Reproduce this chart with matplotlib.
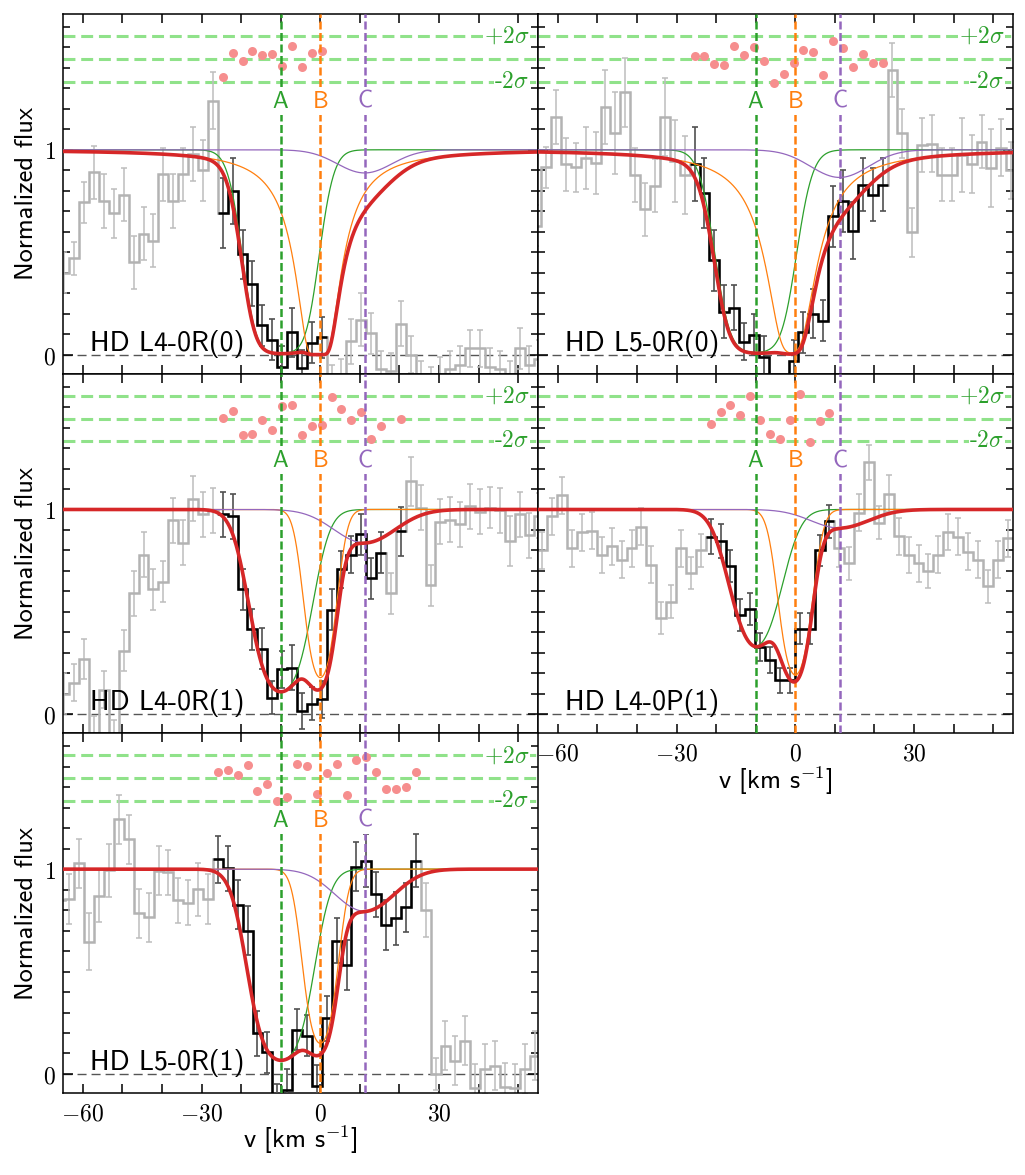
import numpy as np
import matplotlib
matplotlib.use("Agg")
import matplotlib.pyplot as plt
from matplotlib.ticker import FixedLocator, MultipleLocator, FixedFormatter, NullFormatter

plt.rcParams["mathtext.fontset"] = "cm"
SANS = ["cmss10", "DejaVu Sans"]

# ---------------- data ----------------
V_A, V_B, V_C = -10.0, 0.0, 11.2      # component velocities (km/s)
DV = 2.5                              # pixel size (km/s)
RES0, RES_S = 1.444, 0.056            # residual panel: centre and 1 sigma

labels = ["HD L4-0R(0)", "HD L5-0R(0)", "HD L4-0R(1)", "HD L4-0P(1)", "HD L5-0R(1)"]

# first pixel centre of each panel
v_start = [-64.65, -65.45, -64.65, -63.87, -65.87]

flux_1 = [0.40, 0.47, 0.743, 0.89, 0.75, 0.69, 0.78, 0.45, 0.59, 0.556, 0.88, 0.75, 0.88, 0.98, 0.90, 1.24,
          0.69, 0.80, 0.49, 0.345, 0.143, 0.073, -0.06, 0.109, -0.065, 0.057, 0.085,
          -0.15, -0.12, 0.065, 0.17, 0.105, -0.07, -0.08, 0.15, 0.0, -0.12, -0.15, -0.10, -0.07, -0.05,
          0.03, 0.03, -0.06, -0.07, -0.12, 0.03, -0.05, -0.02]
err_1 = [0.10, 0.08, 0.10, 0.13, 0.13, 0.12, 0.13, 0.13, 0.13, 0.13, 0.13, 0.13, 0.13, 0.13, 0.15, 0.14,
         0.17, 0.16, 0.12, 0.11, 0.10, 0.10, 0.10, 0.12, 0.09, 0.10, 0.10,
         0.10, 0.10, 0.11, 0.13, 0.10, 0.09, 0.09, 0.11, 0.09, 0.09, 0.09, 0.09, 0.09, 0.09, 0.09,
         0.09, 0.09, 0.09, 0.09, 0.10, 0.09, 0.09]
fit_1 = [(16, 26)]
resid_1 = [-1.54, 0.48, -0.18, 0.70, 0.34, 0.41, -0.61, 1.13, -0.70, 0.55, 0.70]

flux_2 = [0.63, 0.915, 1.16, 0.93, 0.915, 0.96, 0.935, 1.21, 1.08, 1.28, 0.877, 0.71, 0.824, 1.16, 0.946, 0.875,
          0.93, 0.79, 0.46, 0.21, 0.23, 0.062, 0.098, -0.01, -0.2, -0.2, -0.03, 0.11, 0.20, 0.166, 0.675,
          0.75, 0.605, 0.83, 0.78, 0.83,
          1.39, 1.08, 0.597, 1.024, 1.03, 0.878, 0.878, 0.976, 0.93, 1.04, 0.91, 1.01, 0.9]
err_2 = [0.10, 0.10, 0.13, 0.13, 0.12, 0.15, 0.15, 0.18, 0.20, 0.17, 0.13, 0.13, 0.13, 0.19, 0.20, 0.19,
         0.18, 0.17, 0.15, 0.13, 0.11, 0.09, 0.10, 0.10, 0.10, 0.10, 0.10, 0.10, 0.12, 0.10, 0.15,
         0.15, 0.14, 0.13, 0.13, 0.13,
         0.13, 0.12, 0.12, 0.13, 0.14, 0.13, 0.13, 0.18, 0.14, 0.13, 0.19, 0.14, 0.14]
fit_2 = [(16, 35)]
resid_2 = [0.27, 0.27, -0.46, -0.52, 1.16, 0.34, 1.02, -0.18, -2.1, -1.34, -0.32, 0.73, 0.57, -1.45,
           1.57, 0.93, -0.73, 0.41, -0.38, -0.38]

flux_3 = [0.10, 0.154, 0.27, -0.1, 0.12, -0.12, 0.31, 0.59, 0.78, 0.61, 0.647, 0.948, 0.837, 1.052, 0.976, 0.995,
          0.976, 0.967, 0.61, 0.415, 0.32, 0.081, 0.22, 0.228, 0.016, 0.052, 0.073, 0.51, 0.707, 0.78, 0.88,
          0.663, 0.789,
          0.59, 0.894, 1.138, 1.008, 0.63, 0.94, 0.95, 0.927, 1.016, 0.99, 1.008, 0.995, 0.846, 0.976, 0.873, 0.97]
err_3 = [0.10, 0.09, 0.10, 0.09, 0.09, 0.09, 0.10, 0.11, 0.11, 0.10, 0.10, 0.11, 0.11, 0.11, 0.11, 0.11,
         0.11, 0.11, 0.10, 0.10, 0.10, 0.08, 0.09, 0.11, 0.09, 0.08, 0.09, 0.10, 0.09, 0.09, 0.10, 0.10, 0.10,
         0.10, 0.12, 0.12, 0.11, 0.10, 0.11, 0.11, 0.11, 0.11, 0.11, 0.10, 0.11, 0.12, 0.11, 0.11, 0.11]
fit_3 = [(16, 32), (34, 34)]
resid_3 = [0.05, 0.64, -1.45, -1.34, -0.09, -0.98, 1.11, 1.2, -1.45, -0.61, -0.59, 1.86, 0.84, -0.14,
           0.55, -1.77, -0.66, -0.04]

flux_4 = [0.80, 0.967, 1.07, 0.81, 0.888, 0.896, 0.778, 0.82, 0.754, 0.81, 0.916, 0.73, 0.47, 0.55, 0.81, 0.69, 0.80,
          0.867, 0.846, 0.724, 0.483, 0.512, 0.328, 0.265, 0.166, 0.166, 0.418, 0.418, 0.80, 0.943,
          0.81, 0.737, 0.984, 1.23, 0.935, 1.076, 0.87, 0.778, 0.737, 0.70, 0.78, 0.89, 0.867, 0.794,
          0.754, 0.624, 0.754, 0.86]
err_4 = [0.09, 0.09, 0.09, 0.09, 0.09, 0.09, 0.09, 0.09, 0.09, 0.09, 0.09, 0.09, 0.08, 0.08, 0.09, 0.08, 0.08,
         0.085, 0.085, 0.08, 0.078, 0.078, 0.07, 0.065, 0.06, 0.06, 0.075, 0.075, 0.075, 0.08,
         0.09, 0.08, 0.09, 0.085, 0.08, 0.09, 0.09, 0.09, 0.09, 0.085, 0.09, 0.09, 0.09, 0.09, 0.09, 0.08, 0.09, 0.09]
fit_4 = [(17, 29)]
resid_4 = [-0.52, 0.55, 1.2, 0.29, 2.0, -0.16, -1.32, -1.77, -0.14, 2.14, -2.02, -0.23, 0.52]

flux_5 = [0.85, 0.854, 1.028, 0.646, 0.87, 0.995, 1.244, 1.146, 0.784, 0.764, 0.992, 0.984, 0.849, 0.837, 0.902, 0.854,
          1.049, 1.005, 0.826, 0.699, 0.198, 0.106, -0.15, -0.078, 0.215, 0.187, -0.057, 0.273, 0.65, 0.532,
          1.011, 1.041, 0.878, 0.727, 0.76, 0.813, 1.041,
          0.80, 0.0, 0.138, 0.065, 0.163, -0.07, 0.024, 0.04, -0.065, -0.07, 0.024, 0.09]
err_5 = [0.12, 0.12, 0.12, 0.14, 0.13, 0.13, 0.12, 0.12, 0.12, 0.12, 0.12, 0.11, 0.11, 0.11, 0.13, 0.12,
         0.115, 0.11, 0.12, 0.12, 0.11, 0.10, 0.10, 0.10, 0.10, 0.10, 0.10, 0.11, 0.11, 0.12, 0.12, 0.13,
         0.11, 0.12, 0.13, 0.12, 0.13,
         0.13, 0.08, 0.12, 0.12, 0.12, 0.12, 0.12, 0.12, 0.12, 0.12, 0.12, 0.12]
fit_5 = [(16, 36)]
resid_5 = [0.57, 0.70, 0.32, 1.11, -1.16, -0.52, -1.98, -1.63, 1.27, 1.04, -1.34, 0.46, 1.27, -1.45,
           1.59, 1.82, 0.50, -0.96, -0.93, -0.79, 0.57]

# fitted absorption components (centre, central optical depth, width, Lorentzian fraction) for A, B, C
comps_1 = [(-10.0, 5.0, 7.0, 0.0), (-0.5, 14.7, 1.5, 1.0), (11.2, 0.12, 9.5, 0.0)]
comps_2 = [(-10.0, 4.5, 7.6, 0.0), (-1.0, 4.8, 3.0, 1.0), (11.2, 0.145, 10.0, 0.0)]
comps_3 = [(-10.0, 2.2, 7.2, 0.0), (0.0, 1.72, 4.1, 0.0), (11.2, 0.178, 10.5, 0.0)]
comps_4 = [(-10.0, 1.1, 7.2, 0.0), (0.0, 1.65, 4.3, 0.0), (11.2, 0.095, 10.0, 0.0)]
comps_5 = [(-10.0, 2.7, 7.2, 0.0), (0.0, 1.9, 4.3, 0.0), (11.2, 0.23, 10.0, 0.0)]

x_ticks = [-60, -30, 0, 30]
y_ticks = [0, 1]

# ---------------- style ----------------
C_A, C_B, C_C = "#2ca02c", "#ff7f0e", "#9467bd"
RED = "#d62728"
GRAY = "#b3b3b3"
GRAY_ERR = "#bdbdbd"
DARK_ERR = "#505050"
SIG_COL = "#90e28a"
RES_COL = "#f68e8e"

W, H = 1025, 1175
fig = plt.figure(figsize=(W / 100, H / 100), dpi=100)
col_x = [63, 538]
ax_w = 475
row_y = [14, 373.67, 733.33]
ax_h = 359.67


def add_ax(col, row):
    return fig.add_axes([col_x[col] / W, 1 - (row_y[row] + ax_h) / H, ax_w / W, ax_h / H])


def absorber(v, v0, tau0, b, eta):
    x = (v - v0) / b
    tau = tau0 * ((1 - eta) * np.exp(-x ** 2) + eta / (1 + x ** 2))
    return np.exp(-tau)


panels = [
    (labels[0], v_start[0], flux_1, err_1, fit_1, resid_1, comps_1, 0, 0),
    (labels[1], v_start[1], flux_2, err_2, fit_2, resid_2, comps_2, 1, 0),
    (labels[2], v_start[2], flux_3, err_3, fit_3, resid_3, comps_3, 0, 1),
    (labels[3], v_start[3], flux_4, err_4, fit_4, resid_4, comps_4, 1, 1),
    (labels[4], v_start[4], flux_5, err_5, fit_5, resid_5, comps_5, 0, 2),
]

for (lab, vs, flux, err, fitr, resid, comps, col, row) in panels:
    ax = add_ax(col, row)
    f = np.array(flux)
    e = np.array(err)
    v = vs + DV * np.arange(len(f))
    edges = np.append(v - DV / 2, v[-1] + DV / 2)
    fit = np.zeros(len(f), bool)
    for a, b in fitr:
        fit[a:b + 1] = True

    # residual reference lines
    for yy in (RES0 + 2 * RES_S, RES0, RES0 - 2 * RES_S):
        ax.axhline(yy, color=SIG_COL, lw=2.2, dashes=(3.9, 1.9), zorder=1)
    ax.axhline(0, color="#555555", lw=1.0, dashes=(6.5, 3.6), zorder=1)

    # spectrum
    ax.stairs(f, edges, baseline=None, color=GRAY, lw=1.8, zorder=2)
    ax.errorbar(v[~fit], f[~fit], yerr=e[~fit], fmt="none", ecolor=GRAY_ERR,
                elinewidth=1.1, capsize=2.5, capthick=1.1, zorder=1.8)
    for a, b in fitr:
        ax.stairs(f[a:b + 1], edges[a:b + 2], baseline=None, color="black", lw=1.8, zorder=3)
    ax.errorbar(v[fit], f[fit], yerr=e[fit], fmt="none", ecolor=DARK_ERR,
                elinewidth=1.2, capsize=2.5, capthick=1.2, zorder=2.8)

    # residuals
    ax.plot(v[fit], RES0 + RES_S * np.array(resid), "o", ms=6.5, color=RES_COL, mec="none", zorder=3)

    # model
    vm = np.linspace(-66, 56, 1500)
    profs = [absorber(vm, *c) for c in comps]
    for pr, cc in zip(profs, (C_A, C_B, C_C)):
        ax.plot(vm, pr, color=cc, lw=0.9, zorder=4)
    ax.plot(vm, np.prod(profs, axis=0), color=RED, lw=2.6, zorder=5)

    # component markers
    for vv, cc, tl in zip((V_A, V_B, V_C), (C_A, C_B, C_C), "ABC"):
        ax.axvline(vv, color=cc, lw=1.8, dashes=(3.2, 1.4), zorder=4.5)
        ax.text(vv, 1.235, tl, color=cc, fontsize=17, family=SANS, ha="center", va="center",
                bbox=dict(fc="white", ec="none", pad=1.5), zorder=6)

    tx = 0.982
    ax.text(tx, RES0 + 2 * RES_S, r"$+2\sigma$", color=C_A, fontsize=17, ha="right", va="center",
            transform=ax.get_yaxis_transform(), bbox=dict(fc="white", ec="none", pad=0.5), zorder=6)
    ax.text(tx, RES0 - 2 * RES_S, r"-$2\sigma$", color=C_A, fontsize=17, family=SANS, ha="right", va="center",
            transform=ax.get_yaxis_transform(), bbox=dict(fc="white", ec="none", pad=0.5), zorder=6)

    ax.text(0.057, 0.02, lab, fontsize=20, family=SANS, ha="left", va="baseline",
            transform=ax.get_yaxis_transform(), zorder=6)

    ax.set_xlim(-65, 55)
    ax.set_ylim(-0.093, 1.663)

    ax.xaxis.set_major_locator(FixedLocator(x_ticks))
    ax.xaxis.set_minor_locator(MultipleLocator(10))
    ax.yaxis.set_major_locator(FixedLocator(y_ticks))
    ax.yaxis.set_minor_locator(MultipleLocator(0.1))
    ax.tick_params(which="both", direction="in", top=True, right=True, width=1.1, labelsize=17)
    ax.tick_params(axis="x", which="both", length=6.5, pad=6)
    ax.tick_params(axis="y", which="major", length=7.5, pad=5)
    ax.tick_params(axis="y", which="minor", length=5)
    for s in ax.spines.values():
        s.set_linewidth(1.1)

    show_x = (row == 2) or (col == 1 and row == 1)
    if show_x:
        ax.xaxis.set_major_formatter(FixedFormatter([r"$%d$" % t if t >= 0 else r"$-%d$" % abs(t) for t in x_ticks]))
        xc = (col_x[col] + ax_w / 2) / W
        yb = 1 - (row_y[row] + ax_h + 47) / H
        fig.text(xc, yb, r"v [km s$^{-1}$]", fontsize=19, family=SANS, ha="center", va="center")
    else:
        ax.xaxis.set_major_formatter(NullFormatter())
    if col == 0:
        ax.yaxis.set_major_formatter(FixedFormatter([r"$%d$" % t for t in y_ticks]))
        fig.text(27 / W, 1 - (row_y[row] + ax_h / 2) / H, "Normalized flux", fontsize=19, family=SANS,
                 rotation=90, ha="center", va="center")
    else:
        ax.yaxis.set_major_formatter(NullFormatter())

fig.savefig("out.png", dpi=100)
